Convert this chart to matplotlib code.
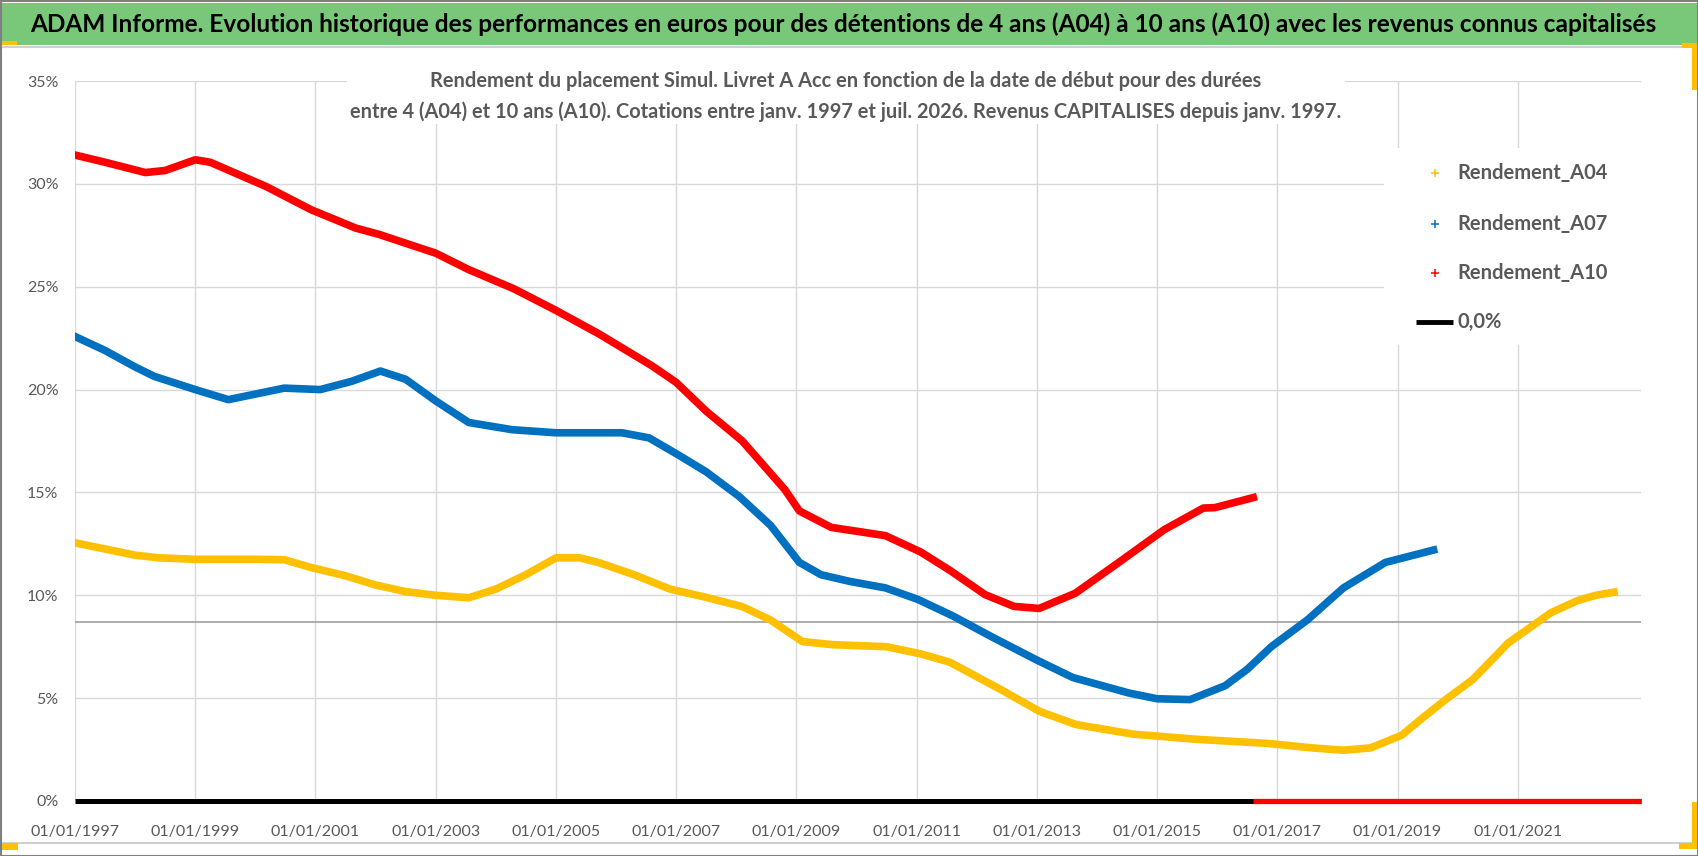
import matplotlib
matplotlib.use("Agg")
import matplotlib.pyplot as plt
from matplotlib.patches import Rectangle
from matplotlib.lines import Line2D

# ---------------- data ----------------
a04_years = [1997.0, 1997.5, 1998.0, 1998.4, 1999.0, 2000.0, 2000.48, 2000.93, 2001.5, 2002.0,
             2002.5, 2003.0, 2003.55, 2004.0, 2004.5, 2005.0, 2005.4, 2005.7, 2006.3, 2006.9,
             2007.5, 2008.1, 2008.57, 2009.1, 2009.6, 2010.5, 2011.07, 2011.55, 2012.38, 2013.05,
             2013.65, 2014.6, 2015.65, 2016.84, 2017.58, 2018.1, 2018.55, 2019.07, 2019.4, 2019.8,
             2020.25, 2020.6, 2020.84, 2021.55, 2022.0, 2022.3, 2022.6]
a04_vals = [12.55, 12.25, 11.95, 11.82, 11.75, 11.75, 11.73, 11.35, 10.95, 10.5,
            10.18, 10.0, 9.88, 10.3, 11.0, 11.82, 11.82, 11.6, 11.0, 10.3,
            9.9, 9.45, 8.8, 7.75, 7.6, 7.5, 7.15, 6.75, 5.45, 4.35,
            3.72, 3.25, 3.0, 2.8, 2.58, 2.47, 2.58, 3.2, 4.0, 4.93,
            5.9, 6.95, 7.68, 9.15, 9.75, 10.0, 10.15]

a07_years = [1997.0, 1997.5, 1998.0, 1998.32, 1999.0, 1999.55, 2000.48, 2001.08, 2001.6, 2002.08,
             2002.5, 2003.0, 2003.55, 2004.27, 2005.0, 2006.1, 2006.55, 2007.05, 2007.5, 2008.05,
             2008.57, 2009.05, 2009.41, 2009.88, 2010.48, 2011.02, 2011.6, 2012.27, 2013.0, 2013.6,
             2014.53, 2015.0, 2015.55, 2016.13, 2016.5, 2016.9, 2017.5, 2018.1, 2018.8, 2019.0,
             2019.6]
a07_vals = [22.58, 21.9, 21.1, 20.64, 20.0, 19.51, 20.07, 20.0, 20.4, 20.9,
            20.5, 19.45, 18.4, 18.05, 17.9, 17.9, 17.65, 16.8, 16.0, 14.8,
            13.4, 11.6, 11.0, 10.68, 10.36, 9.8, 9.0, 7.95, 6.85, 6.0,
            5.25, 4.97, 4.93, 5.6, 6.4, 7.5, 8.8, 10.36, 11.6, 11.75,
            12.2]

a10_years = [1997.0, 1997.5, 1998.17, 1998.5, 1999.0, 1999.25, 2000.18, 2000.93, 2001.67, 2002.05,
             2003.0, 2003.55, 2004.3, 2005.0, 2005.72, 2006.6, 2007.0, 2007.5, 2008.1, 2008.52,
             2008.81, 2009.05, 2009.58, 2010.48, 2011.07, 2011.56, 2012.14, 2012.62, 2013.04, 2013.64,
             2014.35, 2015.12, 2015.77, 2015.96, 2016.6]
a10_vals = [31.4, 31.05, 30.55, 30.65, 31.17, 31.05, 29.87, 28.74, 27.85, 27.55,
            26.63, 25.83, 24.9, 23.85, 22.7, 21.15, 20.35, 18.95, 17.5, 16.1,
            15.13, 14.1, 13.3, 12.9, 12.1, 11.2, 10.03, 9.46, 9.36, 10.1,
            11.57, 13.19, 14.24, 14.26, 14.75]

zero_years = [1997.0, 2023.05]
zero_vals = [0.0, 0.0]
a10_zero_years = [2016.6, 2023.05]   # A10 series continues at 0 after its last value
a10_zero_vals = [0.0, 0.0]
ref_level = 8.7

series_names = ["Rendement_A04", "Rendement_A07", "Rendement_A10", "0,0%"]
series_colors = ["#FFC000", "#0070C0", "#FF0000", "#000000"]

tick_years = [1997, 1999, 2001, 2003, 2005, 2007, 2009, 2011, 2013, 2015, 2017, 2019, 2021]
tick_labels = ["01/01/%d" % y for y in tick_years]
y_ticks = [0, 5, 10, 15, 20, 25, 30, 35]
y_labels = ["%d%%" % v for v in y_ticks]

title = ("ADAM Informe. Evolution historique des performances en euros pour des détentions "
         "de 4 ans (A04) à 10 ans (A10) avec les revenus connus capitalisés")
sub1 = "Rendement du placement Simul. Livret A Acc en fonction de la date de début pour des durées"
sub2 = ("entre 4 (A04) et 10 ans (A10). Cotations entre janv. 1997 et juil. 2026. "
        "Revenus CAPITALISES depuis janv. 1997.")

# ---------------- layout ----------------
W, H = 1698, 856
FONT = ["Lato", "DejaVu Sans"]
plt.rcParams["font.family"] = FONT
GRAY = "#595959"

fig = plt.figure(figsize=(W / 100, H / 100), dpi=100)
fig.patch.set_facecolor("white")


def fx(px):
    return px / W


def fy(py):
    return 1 - py / H


def frect(x0, y0, x1, y1, **kw):
    r = Rectangle((fx(x0), fy(y1)), fx(x1) - fx(x0), fy(y0) - fy(y1),
                  transform=fig.transFigure, **kw)
    fig.add_artist(r)
    return r


ax = fig.add_axes([fx(75), fy(801), fx(1641) - fx(75), fy(81) - fy(801)])
ax.set_xlim(1997.0, 2023.05)
ax.set_ylim(0, 35)
for s in ax.spines.values():
    s.set_visible(False)
ax.set_xticks(tick_years)
ax.set_xticklabels(tick_labels)
ax.set_yticks(y_ticks)
ax.set_yticklabels(y_labels)
ax.tick_params(length=0, labelsize=11.5, labelcolor=GRAY)
ax.tick_params(axis="x", pad=17)
ax.tick_params(axis="y", pad=12)
ax.grid(True, color="#D9D9D9", linewidth=1.0)
ax.set_axisbelow(True)

ax.axhline(ref_level, color="#A6A6A6", linewidth=1.3, zorder=1.5)
ax.plot(zero_years, zero_vals, color=series_colors[3], linewidth=3.6, solid_capstyle="butt",
        zorder=2, clip_on=False)
ax.plot(a04_years, a04_vals, color=series_colors[0], linewidth=5.5, zorder=3)
ax.plot(a07_years, a07_vals, color=series_colors[1], linewidth=5.5, zorder=3)
ax.plot(a10_years, a10_vals, color=series_colors[2], linewidth=5.5, zorder=3)
ax.plot(a10_zero_years, a10_zero_vals, color=series_colors[2], linewidth=3.8,
        solid_capstyle="butt", zorder=4, clip_on=False)

# title bar
frect(0, 3, W, 45, facecolor="#79C879", edgecolor="none", zorder=0.5)
t_title = fig.text(fx(843), fy(24), title, ha="center", va="center", fontsize=18.5,
                   fontweight="bold", color="black")

# chart area frame lines
fig.add_artist(Line2D([fx(3), fx(1692)], [fy(47), fy(47)], color="#D0D0D0", lw=1.5))
fig.add_artist(Line2D([fx(3), fx(1692)], [fy(843), fy(843)], color="#D0D0D0", lw=1.5))

# subtitle box
frect(347, 58, 1345, 124, facecolor="white", edgecolor="none", zorder=1)
t_s1 = fig.text(fx(846), fy(81), sub1, ha="center", va="center", fontsize=13.5,
                fontweight="bold", color=GRAY, zorder=3)
t_s2 = fig.text(fx(846), fy(112), sub2, ha="center", va="center", fontsize=13.5,
                fontweight="bold", color=GRAY, zorder=3)

# legend
frect(1384, 148, 1648, 345, facecolor="white", edgecolor="none", zorder=1)
leg_y = [173, 224, 273, 322]
for i in range(3):
    fig.add_artist(Line2D([fx(1435)], [fy(leg_y[i])], marker="+", markersize=5.5, mew=1.1,
                          color=series_colors[i], linestyle="none", zorder=3))
fig.add_artist(Line2D([fx(1416), fx(1453)], [fy(leg_y[3]), fy(leg_y[3])],
                      color=series_colors[3], lw=3.5, solid_capstyle="butt", zorder=3))
leg_texts = []
for i in range(4):
    leg_texts.append(fig.text(fx(1457), fy(leg_y[i]), series_names[i], ha="left", va="center",
                              fontsize=16.5, fontweight="bold", color=GRAY, zorder=3))

# selection handles
for (x0, y0, x1, y1) in [(0, 41, 17, 45), (0, 843, 18, 850), (1679, 843, 1697, 849),
                         (1692, 802, 1697, 849), (1682, 43, 1697, 48), (1692, 43, 1697, 90)]:
    frect(x0, y0, x1, y1, facecolor="#FFC000", edgecolor="none", zorder=5)

# outer border
frect(0.5, 0.5, W - 0.5, H - 0.5, facecolor="none", edgecolor="#7F7F7F", lw=1.5, zorder=6)

# fit widths of long texts
fig.canvas.draw()
r = fig.canvas.get_renderer()
for t, target in [(t_title, 1628), (t_s2, 989), (leg_texts[0], 150)]:
    w = t.get_window_extent(r).width
    t.set_fontsize(t.get_fontsize() * target / w)
t_s1.set_fontsize(t_s2.get_fontsize())
for t in leg_texts[1:]:
    t.set_fontsize(leg_texts[0].get_fontsize())

fig.savefig("out.png", dpi=100, facecolor="white")
